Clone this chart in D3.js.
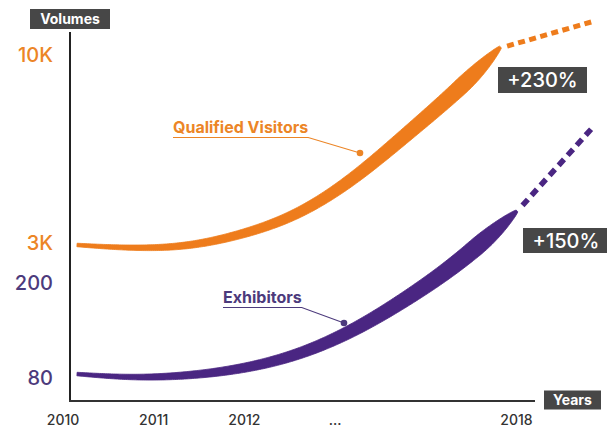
<!DOCTYPE html>
<html><head><meta charset="utf-8">
<script src="https://cdn.jsdelivr.net/npm/d3@7"></script>
<style>body{margin:0;background:#fff}svg{display:block}text{font-family:Inter,'Open Sans',sans-serif}</style>
</head><body><svg id="c" width="607" height="429"></svg>
<script>
// ---- data ----
const visitorYears = [2010, 2011, 2012, 2013, 2014, 2015, 2016, 2017, 2017.7];
const visitorValues = [2926, 2795, 2851, 3298, 4005, 5309, 7058, 8809, 10298];
const visitorProjYears = [2017.82, 2019.35];
const visitorProjValues = [10330, 11230];

const exhibitorYears = [2010, 2011, 2012, 2013, 2014, 2015, 2016, 2017, 2018];
const exhibitorValues = [85, 80, 82.5, 91, 108, 138, 180, 228, 291];
const exhibitorProjYears = [2018.1, 2019.37];
const exhibitorProjValues = [298, 396];

const visitorTicks = [3000, 10000];
const visitorTickLabels = ["3K", "10K"];
const exhibitorTicks = [80, 200];
const exhibitorTickLabels = ["80", "200"];

const xTickLabels = ["2010", "2011", "2012", "...", "2018"];
const xTickSlots = [0, 1, 2, 3, 5];

const growthLabels = ["+230%", "+150%"];
const seriesNames = ["Qualified Visitors", "Exhibitors"];

// ---- styles ----
const ORANGE = "#EE7C1C", PURPLE = "#4A2682", ORANGE_T = "#EC8526", PURPLE_T = "#4C3A7C", BOX = "#474747";

const svg = d3.select("#c");
const x = d3.scaleLinear().domain([2010, 2018]).range([77, 517]);
const yV = d3.scaleLinear().domain([3000, 10000]).range([243, 55]);
const yE = d3.scaleLinear().domain([80, 200]).range([378, 283]);
const xSlot = d3.scaleLinear().domain([0, 5]).range([62.5, 516]);

// axes lines
svg.append("line").attr("x1", 70).attr("x2", 70).attr("y1", 32).attr("y2", 401)
  .attr("stroke", "#222").attr("stroke-width", 2);
svg.append("line").attr("x1", 69).attr("x2", 535).attr("y1", 401).attr("y2", 401)
  .attr("stroke", "#333").attr("stroke-width", 2);

// y tick labels
function yAxis(scale, ticks, labels, color) {
  const g = svg.append("g").attr("transform", "translate(56,0)")
    .call(d3.axisLeft(scale).tickValues(ticks).tickSize(0).tickPadding(3)
      .tickFormat((d, i) => labels[i]));
  g.select(".domain").remove();
  g.selectAll("text").attr("fill", color).attr("font-size", 20).attr("font-weight", 500)
    .style("font-family", "Inter, sans-serif");
}
yAxis(yV, visitorTicks, visitorTickLabels, ORANGE_T);
yAxis(yE, exhibitorTicks, exhibitorTickLabels, PURPLE_T);

// x tick labels
const gx = svg.append("g").attr("transform", "translate(0,401)")
  .call(d3.axisBottom(xSlot).tickValues(xTickSlots).tickSize(0).tickPadding(14)
    .tickFormat((d, i) => xTickLabels[i]));
gx.select(".domain").remove();
gx.selectAll("text").attr("fill", "#333").attr("font-size", 14).attr("font-weight", 500)
  .style("font-family", "Inter, sans-serif");

// tapered band
function band(years, vals, yScale, color, wMax) {
  const pts = years.map((yr, i) => [x(yr), yScale(vals[i])]);
  const line = d3.line().curve(d3.curveBasis);
  const tmp = svg.append("path").attr("d", line(pts)).attr("fill", "none");
  const node = tmp.node(), L = node.getTotalLength(), N = 240;
  const samples = d3.range(N + 1).map(k => node.getPointAtLength(L * k / N));
  tmp.remove();
  const left = [], right = [];
  samples.forEach((p, k) => {
    const t = k / N;
    const a = samples[Math.max(0, k - 2)], b = samples[Math.min(N, k + 2)];
    const dx = b.x - a.x, dy = b.y - a.y, len = Math.hypot(dx, dy) || 1;
    const nx = -dy / len, ny = dx / len;
    let w = 3.5 + (wMax - 3.5) * Math.pow(t, 0.95);
    if (t > 0.88) w = 2.5 + (w - 2.5) * Math.pow(Math.cos((t - 0.88) / 0.12 * Math.PI / 2), 0.8);
    left.push([p.x + nx * w / 2, p.y + ny * w / 2]);
    right.push([p.x - nx * w / 2, p.y - ny * w / 2]);
  });
  const poly = left.concat(right.reverse());
  svg.append("path").attr("d", d3.line().curve(d3.curveLinearClosed)(poly)).attr("fill", color)
    .attr("stroke", color).attr("stroke-width", 0.8).attr("stroke-linejoin", "round");
}
band(visitorYears, visitorValues, yV, ORANGE, 17.5);
band(exhibitorYears, exhibitorValues, yE, PURPLE, 19);

// projections
function proj(years, vals, yScale, color, dash, w) {
  svg.append("path").attr("d", d3.line()(years.map((yr, i) => [x(yr), yScale(vals[i])])))
    .attr("fill", "none").attr("stroke", color).attr("stroke-width", w).attr("stroke-dasharray", dash);
}
proj(visitorProjYears, visitorProjValues, yV, ORANGE, "7,4.5", 5);
proj(exhibitorProjYears, exhibitorProjValues, yE, PURPLE, "8,5.5", 5.5);

// dark boxes
function box(cx, cy, w, h, txt, fs, fw) {
  svg.append("rect").attr("x", cx - w / 2).attr("y", cy - h / 2).attr("width", w).attr("height", h).attr("fill", BOX);
  svg.append("text").attr("x", cx).attr("y", cy).attr("dy", "0.36em").attr("text-anchor", "middle")
    .attr("fill", "#fff").attr("font-size", fs).attr("font-weight", fw).text(txt);
}
box(70, 19, 80, 20, "Volumes", 14, 700);
box(572.5, 400, 57, 19, "Years", 14, 700);
box(542.5, 80, 89, 26, growthLabels[0], 20, 500);
box(566, 240.5, 86, 25, growthLabels[1], 20, 500);

// series annotations
function annot(tx, ty, name, color, lineColor, dotx, doty) {
  const t = svg.append("text").attr("x", tx).attr("y", ty).attr("fill", color)
    .attr("font-size", 16).attr("font-weight", 700).text(name);
  const bb = t.node().getBBox();
  svg.append("path").attr("d", `M${tx},${ty + 4.5}L${bb.x + bb.width},${ty + 4.5}L${dotx},${doty}`)
    .attr("fill", "none").attr("stroke", lineColor).attr("stroke-width", 1.1);
  svg.append("circle").attr("cx", dotx).attr("cy", doty).attr("r", 3.3).attr("fill", lineColor);
}
annot(173, 133, seriesNames[0], ORANGE_T, ORANGE_T, 360, 153);
annot(223, 303, seriesNames[1], PURPLE_T, PURPLE_T, 344, 323);
</script></body></html>
